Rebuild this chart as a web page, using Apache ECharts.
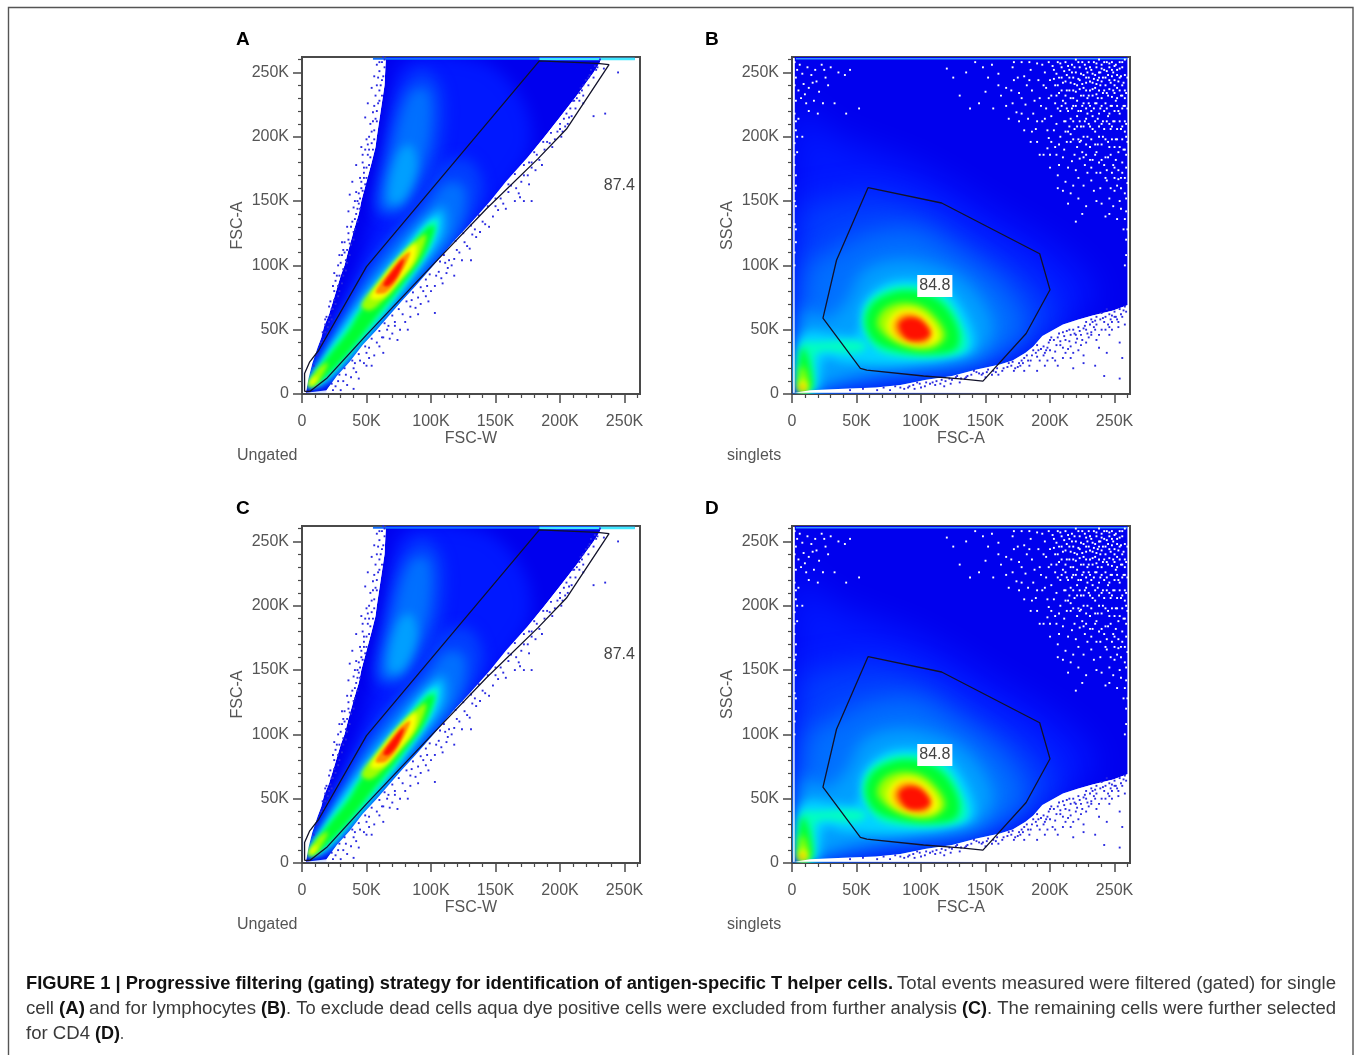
<!DOCTYPE html>
<html><head><meta charset="utf-8">
<style>html,body{margin:0;padding:0;background:#fff}#c{width:1354px;height:1055px}</style>
<script src="https://cdn.jsdelivr.net/npm/echarts@6/dist/echarts.min.js"></script>
</head><body><div id="c"></div>
<script>
const majorTicks=[0,50,100,150,200,250];
const minorTicks=[10,20,30,40,60,70,80,90,110,120,130,140,160,170,180,190,210,220,230,240,260];
const axisMax=262;
const tickLabels={0:'0',50:'50K',100:'100K',150:'150K',200:'200K',250:'250K'};

const levelColors=['#0000ee','#0018ff','#0040ff','#0070ff','#00a0ff','#00d4ff','#00ffc0','#00ff30','#a0ff00','#ffff00','#ff8c00','#ff1000'];
const softnessA=[0,16,14,12,10,7,5,5,4,4,3,3];
const softnessB=[0,34,30,24,16,10,7,7,7,6,6,5];

/* A/C: density contour polygons: [level, [x,y]...] in thousands */
const densityA=[
[0,[3,1],[5,12],[8,24],[12,36],[15,44],[17,52],[21,62],[25,75],[30,92],[33,100],[36,112],[41,130],[44,140],[46,150],[50,165],[54,180],[57,192],[58,200],[61,220],[64,240],[65,262],[231,262],[231,258],[226,250],[213,232],[199,214],[188,200],[175,184],[158,165],[146,150],[130,132],[117,118],[102,100],[88,84],[77,72],[58,50],[47,38],[37,25],[27,14],[19,3]],
[1,[7,12],[16,30],[30,64],[41,92],[50,122],[60,165],[68,210],[77,258],[140,258],[170,230],[178,195],[162,165],[135,130],[105,95],[70,52],[38,22],[16,10]],
[2,[58,142],[63,185],[74,232],[92,252],[108,238],[108,195],[96,162],[78,140]],
[2,[7,12],[17,36],[34,68],[49,96],[65,120],[90,150],[108,178],[130,182],[140,158],[124,124],[97,90],[66,54],[36,24],[15,10]],
[3,[62,146],[70,190],[84,234],[98,236],[99,200],[88,165],[74,144]],
[3,[7,10],[20,35],[38,68],[54,94],[72,118],[95,143],[112,164],[126,160],[122,130],[100,100],[72,67],[42,33],[18,10]],
[4,[67,150],[74,186],[84,194],[89,176],[78,150]],
[4,[6,8],[20,33],[40,65],[56,89],[75,112],[96,137],[110,146],[112,126],[93,99],[66,64],[38,30],[17,9]],
[5,[5,7],[18,30],[36,58],[56,85],[75,108],[98,135],[107,140],[106,122],[89,95],[64,62],[36,29],[16,9]],
[6,[5,6],[17,27],[36,53],[56,81],[76,106],[97,132],[105,135],[99,114],[82,89],[60,59],[32,26],[14,9]],
[7,[5,6],[17,25],[36,49],[45,64],[60,83],[78,105],[97,129],[103,130],[94,107],[76,83],[56,58],[34,30],[14,10]],
[8,[5,7],[12,19],[20,24],[13,10],[8,6]],
[8,[46,69],[60,88],[72,103],[85,116],[96,124],[91,107],[78,90],[64,74],[53,65]],
[9,[53,75],[65,93],[76,106],[88,117],[87,104],[74,87],[63,75]],
[9,[5,7],[9,13],[12,13],[8,7]],
[10,[57,79],[68,95],[78,107],[84,110],[75,91],[65,79]],
[11,[63,85],[72,98],[79,105],[74,92],[67,84]]
];
/* regions with no events in A/C */
const emptyA=[
[[1,1],[3,1],[5,12],[8,24],[12,36],[15,44],[17,52],[21,62],[25,75],[30,92],[33,100],[36,112],[41,130],[44,140],[46,150],[50,165],[54,180],[57,192],[58,200],[61,220],[64,240],[65,261],[1,261]],
[[261,1],[19,1],[19,3],[27,14],[37,25],[47,38],[58,50],[77,72],[88,84],[102,100],[117,118],[130,132],[146,150],[158,165],[175,184],[188,200],[199,214],[213,232],[226,250],[231,258],[231,259],[261,259]]
];

/* B/D: density contour polygons */
const densityB=[
[0,[2,1],[2,262],[260,262],[260,69],[249,65],[233,61],[222,58],[210,54],[194,45],[187,37],[181,32],[171,26],[161,23],[143,19],[124,14],[104,11],[84,7],[65,5],[40,4],[14,3]],
[1,[3,3],[3,225],[25,205],[60,190],[100,175],[150,145],[215,105],[235,75],[200,44],[160,24],[100,12],[50,6],[15,2]],
[2,[5,4],[8,145],[30,150],[60,155],[100,145],[140,120],[185,90],[205,58],[170,30],[130,17],[90,12],[50,7],[15,3]],
[3,[6,4],[12,100],[30,110],[60,125],[95,128],[125,112],[165,82],[180,50],[155,28],[115,18],[80,14],[45,8],[15,3]],
[4,[6,4],[10,66],[25,58],[42,72],[55,95],[80,104],[110,100],[138,84],[156,52],[143,30],[105,22],[70,18],[40,12],[15,3]],
[5,[6,3],[8,46],[35,46],[50,46],[55,70],[72,86],[95,89],[118,83],[136,60],[141,36],[120,27],[95,24],[70,23],[40,25],[25,28],[22,14],[20,3]],
[6,[55,55],[59,71],[75,82],[95,84],[116,78],[131,56],[135,35],[115,29],[85,29],[65,35]],
[6,[6,3],[8,40],[14,40],[50,41],[58,37],[48,32],[20,32],[17,10],[15,3]],
[7,[57,55],[62,70],[78,79],[96,80],[116,71],[129,50],[127,35],[105,31],[80,34],[64,41]],
[7,[6,3],[7,36],[12,30],[16,8],[14,3]],
[8,[66,55],[73,67],[90,71],[106,65],[119,46],[110,36],[92,36],[74,44]],
[8,[6,3],[7,22],[11,16],[12,3]],
[9,[74,55],[81,64],[94,66],[108,57],[114,44],[105,38],[90,39],[77,46]],
[9,[6,3],[7,11],[11,8],[11,3]],
[10,[6,3],[7,7],[9,6],[9,3]],
[10,[79,55],[86,62],[97,61],[108,49],[104,40],[90,41],[81,46]],
[11,[83,54],[90,59],[100,57],[107,47],[101,42],[89,43]]
];
/* regions with no events in B/D */
const emptyB=[
[[1,1],[2,1],[2,261],[1,261]],
[[2,1],[261,1],[261,69],[260,69],[249,65],[233,61],[222,58],[210,54],[194,45],[187,37],[181,32],[171,26],[161,23],[143,19],[124,14],[104,11],[84,7],[65,5],[40,4],[14,3]]
];

/* gate outlines */
const gateA=[[2,2],[2,16],[6,25],[13,34],[50,99],[184,259],[229,257],[238,256],[205,206],[183,183],[143,144],[101,100],[50,46],[19,12],[6,2],[2,2]];
const gateB=[[59,160.5],[116,148.5],[192,109],[200,81],[181.5,47],[148,10],[133,11.5],[102,14],[58,18.6],[53,20],[24,59],[34.5,104],[59,160.5]];

/* top-edge streaks */
const topStreakA=[[55,260.6],[258,260.6]];
const topCyanA=[[184,260.4],[258,260.4]];
const topStreakB=[[3,260.6],[260,260.6]];

/* isolated events */
const dotsA=[[62,258],[60,251],[64,254],[59,246],[61,240],[62,232],[57,232],[59,226],[55,219],[57,214],[53,210],[56,205],[50,198],[54,195],[52,190],[49,190],[53,184],[47,180],[50,176],[48,172],[45,168],[49,163],[46,160],[42,157],[45,152],[44,148],[40,145],[42,140],[41,136],[38,130],[40,126],[36,125],[33,118],[37,117],[35,112],[31,108],[34,104],[28,100],[32,97],[29,92],[26,88],[28,84],[25,80],[22,72],[25,73],[23,66],[19,60],[22,61],[18,54],[16,48],[20,52],[36,142],[37,155],[32,112],[29,108],[25,94],[39,165],[42,178],[46,192],[49,215],[51,226],[54,238],[56,247],[63,247],[60,236],[58,220],[55,212],[52,200],[51,186],[48,168],[44,156],[43,144],[39,134],[36,120],[33,110],[30,102],[27,92],[24,84],[21,68],[18,58],[58,256],[64,260],[47,186],[41,150],[35,130],[31,118],
[63,262],[62,244],[60,228],[58,212],[56,198],[55,190],[52,178],[50,168],[47,158],[45,144],[43,134],[40,120],[37,108],[34,96],[31,86],[28,76],[24,66],[21,56],[18,48],[15,40],[12,30],[9,22],[60,258],[58,240],[56,224],[54,204],[51,194],[48,176],[46,165],[43,150],[41,128],[38,116],[35,102],[32,92],[29,80],[26,70],[23,58],[20,47],[17,42],
[228,252],[226,246],[223,248],[222,240],[218,240],[218,232],[215,234],[215,228],[212,222],[210,228],[207,215],[209,216],[204,208],[206,210],[200,206],[201,200],[196,198],[192,195],[194,192],[188,190],[184,182],[186,178],[178,176],[175,170],[181,174],[170,165],[166,160],[168,156],[160,157],[156,148],[158,144],[152,143],[148,138],[145,130],[142,132],[138,126],[135,122],[130,113],[128,115],[122,110],[124,104],[118,105],[116,100],[113,98],[112,94],[108,90],[109,86],[103,84],[100,80],[96,76],[98,72],[92,70],[88,67],[90,62],[84,60],[80,56],[82,50],[76,50],[72,53],[70,47],[68,43],[74,42],[60,37],[56,30],[63,32],[52,28],[48,24],[54,22],[42,17],[38,13],[44,12],[32,10],[35,7],[26,6],[24,3],[30,3],[40,4],[227,255],[224,252],[220,244],[216,238],[213,230],[208,222],[203,214],[198,204],[190,196],[182,186],[176,180],[172,170],[162,162],[154,152],[150,146],[140,134],[132,124],[126,118],[120,112],[114,104],[106,95],[104,92],[94,80],[90,75],[84,68],[78,62],[72,56],[66,50],[62,44],[58,40],[50,32],[45,26],[40,20],[34,15],[28,10],
[229,254],[222,246],[217,236],[211,228],[205,218],[200,210],[193,203],[187,196],[180,188],[172,178],[165,171],[160,163],[150,152],[144,146],[137,139],[131,131],[125,125],[119,119],[110,108],[107,103],[99,93],[96,89],[92,83],[86,79],[81,72],[75,66],[70,61],[64,55],[60,49],[54,43],[49,37],[44,31],[39,26],[33,20],[29,15],[23,8],[218,226],[202,204],[178,180],[134,128],[111,102],[97,84],[85,73],[67,53],[52,36],[41,24],
[103,63],[63,44],[50,22],[172,150],[176,163],[169,153],[178,150],[165,150],[245,250],[235,218],[226,216],[131,104],[118,92],[234,253],[231,260]];

const whiteDotsB=[[2,258],[4,252],[6,256],[3,246],[8,249],[2,240],[5,236],[9,241],[12,254],[15,248],[13,238],[18,252],[19,243],[23,256],[21,235],[26,246],[28,240],[30,254],[3,228],[7,230],[11,226],[17,228],[24,226],[2,218],[5,214],[13,220],[20,218],[3,205],[8,200],[2,195],[4,188],[2,178],[3,170],[2,158],[3,146],[2,132],[3,118],[2,100],[33,226],[36,250],[41,248],[3,212],[4,200],[2,186],[3,162],[2,150],[3,128],[2,110],[10,233],[16,242],[25,252],
[155,256],[160,249],[166,238],[162,232],[171,254],[172,244],[176,234],[171,226],[178,258],[180,247],[182,240],[181,225],[185,252],[186,236],[187,218],[190,257],[191,244],[192,230],[194,212],[193,224],[196,250],[197,238],[197,222],[198,205],[199,258],[200,244],[201,232],[201,216],[201,196],[203,252],[204,240],[204,226],[205,210],[205,186],[206,258],[207,246],[207,234],[208,220],[208,200],[209,254],[210,242],[210,228],[211,212],[211,190],[212,258],[213,248],[213,236],[213,222],[214,204],[214,176],[215,252],[216,242],[216,230],[216,214],[216,196],[217,256],[218,246],[218,236],[218,224],[219,206],[219,186],[220,260],[220,250],[221,240],[221,228],[221,216],[222,198],[222,168],[223,254],[223,244],[224,232],[224,220],[224,208],[225,188],[225,258],[226,248],[226,238],[226,226],[227,212],[227,178],[228,253],[228,242],[229,230],[229,218],[229,200],[230,258],[230,246],[231,236],[231,224],[231,208],[231,192],[232,252],[233,242],[233,232],[233,216],[233,182],[234,258],[235,248],[235,238],[235,226],[235,204],[236,254],[237,244],[237,230],[237,214],[237,194],[238,260],[239,250],[239,240],[239,222],[239,172],[240,256],[241,246],[241,234],[241,212],[241,200],[242,252],[243,240],[243,226],[243,184],[244,258],[245,248],[245,232],[245,216],[245,196],[246,254],[247,242],[247,224],[247,206],[247,160],[248,258],[249,250],[249,236],[249,212],[249,178],[250,244],[251,256],[251,228],[251,198],[252,252],[252,238],[253,220],[253,188],[254,258],[254,246],[255,232],[255,206],[255,168],[256,254],[256,240],[257,224],[257,190],[258,260],[258,248],[258,212],[258,230],[259,200],[259,176],[259,152],[258,136],[259,120],[258,100],
[150,235],[145,226],[156,222],[168,214],[176,212],[180,205],[186,204],[190,196],[195,186],[200,176],[206,170],[212,165],[216,156],[222,152],[228,146],[234,158],[240,148],[246,140],[250,168],[254,150],[120,253],[135,250],[138,222],[52,222],[42,218],[45,252],
[202,255],[205,249],[208,257],[211,251],[214,255],[217,250],[219,254],[222,258],[224,249],[227,256],[229,250],[231,254],[233,249],[236,257],[238,250],[240,253],[242,258],[244,251],[246,257],[248,252],[250,255],[252,248],[254,253],[256,258],[203,245],[206,240],[209,246],[212,243],[215,246],[219,241],[222,245],[225,241],[228,246],[231,243],[234,245],[236,241],[238,246],[240,243],[243,246],[246,244],[248,247],[250,240],[253,243],[255,247],[257,242],[205,232],[209,236],[212,232],[215,236],[218,230],[220,235],[223,237],[226,232],[228,236],[230,232],[233,237],[236,233],[238,236],[240,230],[242,236],[244,234],[246,237],[248,231],[250,234],[252,230],[254,236],[256,232],[258,236],[206,222],[209,224],[212,226],[214,220],[217,222],[220,224],[222,220],[225,224],[228,222],[230,226],[232,220],[234,222],[236,226],[238,218],[240,224],[242,220],[244,222],[246,218],[248,224],[250,220],[252,224],[254,218],[256,222],[258,224],[212,212],[215,208],[218,212],[221,208],[223,212],[226,208],[228,214],[230,210],[233,206],[235,212],[238,208],[240,210],[242,206],[244,212],[246,210],[248,208],[250,212],[252,206],[254,212],[256,208],[258,204],[218,198],[223,196],[226,200],[228,194],[232,198],[235,194],[238,200],[240,194],[243,198],[246,192],[248,198],[250,192],[252,198],[254,192],[256,198],[258,190],[226,184],[231,182],[235,186],[238,180],[242,178],[245,184],[248,172],[251,182],[253,174],[256,180],[258,168],[244,166],[250,158],[255,160],
[170,236],[175,246],[178,230],[184,244],[188,228],[190,212],[195,240],[199,230],[172,258],[184,258],[194,256],
[174,219],[183,214],[189,206],[196,214],[199,199],[204,192],[207,178],[210,184],[213,196],[217,181],[220,174],[223,183],[226,162],[229,172],[232,166],[236,172],[239,160],[243,168],[246,152],[249,146],[252,162],[255,144],[258,156],[203,205],[207,194],[212,204],[216,202],[221,192],[224,197],[228,186],[232,176],[236,188],[240,182],[244,174],[247,186],[250,176],[253,167],[256,172],[259,186],[259,210],[259,234],[260,246],[260,222],[260,196],[260,164],[259,142],[260,128],[259,108],[192,186],[198,191],[185,196],[178,218],[166,224],[160,240],[152,246],[148,254],[142,258],[130,232],[125,246],[200,186],[210,158],[218,162],[225,140],[236,150],[243,138],[252,136],[257,128],[214,148],[220,134],[206,160]];

const blueDotsB=[[258,68],[254,66],[250,64],[246,62],[256,60],[252,58],[244,66],[240,63],[236,60],[248,56],[242,56],[232,58],[228,56],[236,54],[228,50],[222,52],[218,50],[224,46],[232,46],[216,46],[210,48],[212,42],[220,40],[228,40],[206,44],[200,42],[208,38],[214,35],[222,34],[198,36],[204,33],[196,32],[190,38],[186,30],[192,26],[202,28],[210,28],[180,28],[176,24],[184,22],[170,22],[164,20],[172,18],[156,18],[160,15],[148,16],[150,13],[136,14],[124,11],[130,9],[112,10],[104,9],[94,7],[84,5],[76,3],[66,3],[118,6],[100,5],[216,28],[226,24],[236,42],[246,46],[254,40],[244,32],[256,28],[235,22],[218,20],[196,22],[180,18],[242,14],[254,12],[232,48],[238,36],[226,30],[206,22],[190,18],
[259,64],[255,62],[251,60],[247,58],[243,60],[239,58],[235,57],[231,54],[227,53],[223,49],[219,47],[215,50],[211,45],[207,47],[203,42],[199,40],[195,37],[191,34],[187,34],[183,26],[179,24],[175,21],[171,25],[167,21],[163,18],[159,20],[155,15],[151,17],[147,15],[143,17],[139,15],[135,13],[131,12],[127,13],[123,8],[119,10],[115,8],[111,7],[107,8],[103,6],[99,8],[95,4],[91,6],[87,4],[250,60],[245,54],[240,50],[235,50],[230,44],[225,42],[220,46],[215,41],[210,36],[205,38],[200,34],[195,30],[190,29],[185,26],[238,46],[243,50],[248,50],[253,52],[258,54],[216,37],[224,38],[212,32],[218,32],[204,26],[198,26],
[257,65],[248,61],[241,59],[233,56],[226,51],[213,49],[201,44],[193,35],[182,30],[177,22],[168,24],[152,19],[141,18],[128,14],[116,11],[97,9],[80,6],[71,5],[55,4],[45,3],[253,56],[246,52],[234,52],[229,47],[221,43],[208,41],[197,34],[189,32],[178,26],[173,20],[158,17],[145,16],[134,12],[122,12],[109,9],[90,5]];

/* typed annotations */
const gateLabelA=[246,162,'87.4'];
const gateLabelB=[110.7,84,'84.8'];
const panelLetters=['A','B','C','D'];
const xNames=['FSC-W','FSC-A','FSC-W','FSC-A'];
const yNames=['FSC-A','SSC-A','FSC-A','SSC-A'];
const footers=['Ungated','singlets','Ungated','singlets'];

const captionRuns=[
 ['FIGURE 1 | Progressive filtering (gating) strategy for identification of antigen-specific T helper cells.',1,26,893,984],
 ['Total events measured were filtered (gated) for single',0,897,1336,984],
 ['cell',0,26,54,1009],['(A)',1,59,85,1009],['and for lymphocytes',0,89,256,1009],['(B)',1,261,286,1009],
 ['. To exclude dead cells aqua dye positive cells were excluded from further analysis',0,286,957,1009],
 ['(C)',1,962,987,1009],['. The remaining cells were further selected',0,987,1336,1009],
 ['for CD4',0,26,90,1034],['(D)',1,95,120,1034],['.',0,120,124,1034]
];

const FONT='"Liberation Sans",Arial,sans-serif';
const GREY='#555';
const cv=document.createElement('canvas').getContext('2d');
function scaleFor(t,bold,w){cv.font=(bold?'bold ':'')+'18px "Liberation Sans"';return w/cv.measureText(t).width;}

const lefts=[302,792,302,792],tops=[57,57,526,526];
const OFF=3000;
const grid=[],xAxis=[],yAxis=[],series=[],graphic=[];
const makeAxis=(i,isX)=>[
 {type:'value',gridIndex:i,min:0,max:axisMax,interval:50,
  name:isX?xNames[i]:yNames[i],nameLocation:'middle',nameGap:isX?37:56,
  nameTextStyle:{color:GREY,fontFamily:FONT,fontSize:16},
  axisLine:{show:true,lineStyle:{color:'#4a4a4a',width:2}},
  axisTick:{show:true,length:9,lineStyle:{color:'#4a4a4a',width:1.5},customValues:majorTicks},
  axisLabel:{show:true,color:GREY,fontFamily:FONT,fontSize:16,margin:isX?20:13,customValues:majorTicks,formatter:v=>tickLabels[v]??''},
  splitLine:{show:false},minorTick:{show:false}},
 {type:'value',gridIndex:i,min:0,max:axisMax,interval:50,position:isX?'bottom':'left',
  axisLine:{show:false},axisTick:{show:true,length:4,lineStyle:{color:'#4a4a4a',width:1.2},customValues:minorTicks},
  axisLabel:{show:false},splitLine:{show:false}}
];
for(let i=0;i<4;i++){
 grid.push({left:lefts[i],top:tops[i],width:338,height:337,show:true,backgroundColor:'#fff',borderColor:'#4a4a4a',borderWidth:2});
 xAxis.push(...makeAxis(i,true));yAxis.push(...makeAxis(i,false));
 const xi=i*2,yi=i*2;
 const isA=i%2===0;
 const bands=isA?densityA:densityB;
 const soft=isA?softnessA:softnessB;
 const empty=isA?emptyA:emptyB;
 series.push({type:'custom',xAxisIndex:xi,yAxisIndex:yi,clip:true,silent:true,z:2,
  data:bands.map((b,k)=>[k,k]),
  renderItem:(p,api)=>{
   const b=bands[p.dataIndex],lv=b[0],c=levelColors[lv];
   if(lv===0)return {type:'polygon',shape:{points:b.slice(1).map(q=>api.coord(q))},style:{fill:c}};
   /* drawn off to one side so that only the soft shadow lands in the grid */
   return {type:'polygon',shape:{points:b.slice(1).map(q=>{const r=api.coord(q);return [r[0]-OFF,r[1]];}),smooth:0.35},
    style:{fill:c,shadowBlur:soft[lv],shadowColor:c,shadowOffsetX:OFF}};
  }});
 series.push({type:'custom',xAxisIndex:xi,yAxisIndex:yi,clip:true,silent:true,z:3,
  data:empty.map((b,k)=>[k,k]),
  renderItem:(p,api)=>({type:'polygon',shape:{points:empty[p.dataIndex].map(q=>api.coord(q))},style:{fill:'#fff'}})});
 const ln=(d,col,w,z)=>series.push({type:'line',xAxisIndex:xi,yAxisIndex:yi,data:d,showSymbol:false,silent:true,z:z,lineStyle:{color:col,width:w},clip:true});
 if(isA){ln(topStreakA,'#1070ff',2,4);ln(topCyanA,'#40e8ff',2.6,4);}else{ln(topStreakB,'#3090ff',1.6,4);}
 const dots=(d,col,sz)=>series.push({type:'scatter',xAxisIndex:xi,yAxisIndex:yi,data:d,symbol:'rect',symbolSize:sz,silent:true,z:5,itemStyle:{color:col,opacity:1}});
 if(isA){dots(dotsA,'#2a2ae0',1.9);}else{dots(whiteDotsB,'#ffffff',1.9);dots(blueDotsB,'#2a2ae0',1.9);}
 ln(isA?gateA:gateB,'#12122a',1.3,6);
 const g=isA?gateLabelA:gateLabelB;
 series.push({type:'scatter',xAxisIndex:xi,yAxisIndex:yi,data:[[g[0],g[1]]],symbolSize:0,silent:true,z:7,itemStyle:{opacity:1},
  label:{show:true,position:'inside',formatter:g[2],color:'#444',fontFamily:FONT,fontSize:16,
   backgroundColor:isA?'transparent':'#fff',padding:isA?0:[3,2]}});
 graphic.push({type:'text',x:i%2?705:236,y:tops[i]-17,style:{text:panelLetters[i],fontFamily:FONT,fontWeight:'bold',fontSize:19,fill:'#000',textVerticalAlign:'middle'}});
 graphic.push({type:'text',x:lefts[i]-65,y:tops[i]+399,style:{text:footers[i],fontFamily:FONT,fontSize:16,fill:GREY,textVerticalAlign:'middle'}});
}
/* figure frame */
graphic.push({type:'polyline',shape:{points:[[8.5,1055],[8.5,7.5],[1353,7.5],[1353,1055]]},style:{stroke:'#555',lineWidth:1.4,fill:null}});
captionRuns.forEach(r=>{
 graphic.push({type:'text',x:r[2],y:r[4],scaleX:scaleFor(r[0],r[1],r[3]-r[2]),originX:0,
  style:{text:r[0],fontFamily:'"Liberation Sans"',fontWeight:r[1]?'bold':'normal',fontSize:18,fill:r[1]?'#111':'#3a3a3a',textVerticalAlign:'middle'}});
});
const chart=echarts.init(document.getElementById('c'),null,{renderer:'canvas'});
chart.setOption({animation:false,backgroundColor:'#fff',grid,xAxis,yAxis,series,graphic});
</script></body></html>
